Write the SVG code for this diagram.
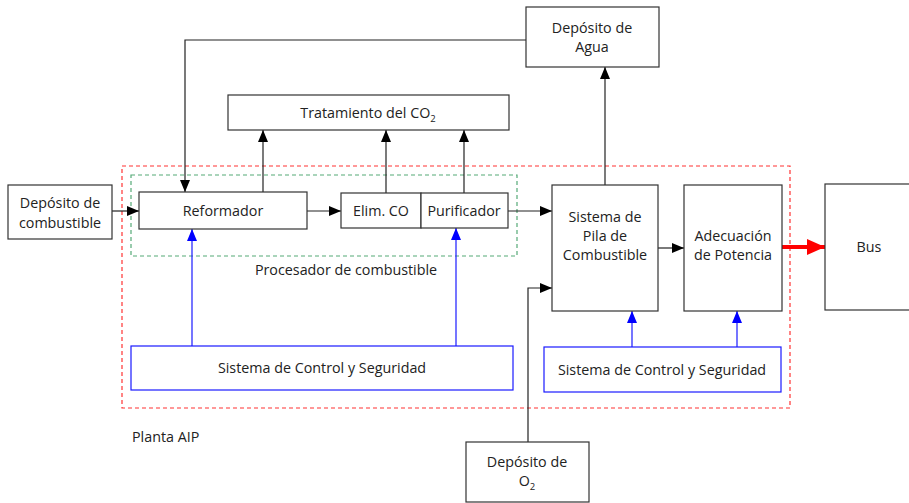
<svg xmlns="http://www.w3.org/2000/svg" width="909" height="503" viewBox="0 0 909 503">
<style>
.b{fill:#fff;stroke:#333;stroke-width:1.2}
.bb{fill:#fff;stroke:#1a1aff;stroke-width:1.2}
text{font-family:"Open Sans","Noto Sans",sans-serif;font-size:14.3px;fill:#222;text-anchor:middle}
.c{fill:none;stroke:#222;stroke-width:1.2}
.cb{fill:none;stroke:#1a1aff;stroke-width:1.2}
</style>
<defs>
<marker id="ak" markerWidth="12" markerHeight="10" refX="12" refY="5" orient="auto" markerUnits="userSpaceOnUse"><path d="M0,0L12,5L0,10Z" fill="#000"/></marker>
<marker id="ab" markerWidth="12" markerHeight="10" refX="12" refY="5" orient="auto" markerUnits="userSpaceOnUse"><path d="M0,0L12,5L0,10Z" fill="#0000ff"/></marker>
<marker id="ar" markerWidth="18" markerHeight="16" refX="18" refY="8" orient="auto" markerUnits="userSpaceOnUse"><path d="M0,0L18,8L0,16Z" fill="#ff0000"/></marker>
</defs>
<g id="planta">
<rect x="122" y="166" width="668" height="242" fill="none" stroke="#ff3333" stroke-width="1.2" stroke-dasharray="4,3"/>
<text x="132" y="442" style="text-anchor:start">Planta AIP</text>
</g>
<g id="procesador">
<rect x="131" y="175" width="386" height="81" fill="none" stroke="#55aa77" stroke-width="1.2" stroke-dasharray="4,3"/>
<text x="346" y="275">Procesador de combustible</text>
</g>
<g id="connectors">
<path class="c" d="M526,40H185V192" marker-end="url(#ak)"/>
<path class="c" d="M605,185V67" marker-end="url(#ak)"/>
<path class="c" d="M112,211H139" marker-end="url(#ak)"/>
<path class="c" d="M263,192V130" marker-end="url(#ak)"/>
<path class="c" d="M386,193V130" marker-end="url(#ak)"/>
<path class="c" d="M464,193V130" marker-end="url(#ak)"/>
<path class="c" d="M307,211H341" marker-end="url(#ak)"/>
<path class="c" d="M508,211H552" marker-end="url(#ak)"/>
<path class="c" d="M658,248H684" marker-end="url(#ak)"/>
<path class="c" d="M528,442V288H552" marker-end="url(#ak)"/>
<path d="M782,247H825" fill="none" stroke="#ff0000" stroke-width="4" marker-end="url(#ar)"/>
<path class="cb" d="M192,346V229" marker-end="url(#ab)"/>
<path class="cb" d="M456,346V228" marker-end="url(#ab)"/>
<path class="cb" d="M632,347V311" marker-end="url(#ab)"/>
<path class="cb" d="M737,347V311" marker-end="url(#ab)"/>
</g>
<g id="agua"><rect class="b" x="526" y="7" width="133" height="60"/><text x="592" y="33">Depósito de</text><text x="592" y="52">Agua</text></g>
<g id="tratamiento"><rect class="b" x="228" y="95" width="281" height="35"/><text x="368" y="118">Tratamiento del CO<tspan font-size="9.5" dy="4">2</tspan></text></g>
<g id="combustible"><rect class="b" x="8" y="185" width="104" height="54"/><text x="60" y="208">Depósito de</text><text x="60" y="228">combustible</text></g>
<g id="reformador"><rect class="b" x="139" y="192" width="168" height="37"/><text x="223" y="216">Reformador</text></g>
<g id="elimco"><rect class="b" x="341" y="193" width="80" height="35"/><text x="381" y="216">Elim. CO</text></g>
<g id="purificador"><rect class="b" x="421" y="193" width="87" height="35"/><text x="464" y="216">Purificador</text></g>
<g id="pila"><rect class="b" x="552" y="185" width="106" height="126"/><text x="605" y="222">Sistema de</text><text x="605" y="241">Pila de</text><text x="605" y="260">Combustible</text></g>
<g id="adecuacion"><rect class="b" x="684" y="185" width="98" height="126"/><text x="733" y="241">Adecuación</text><text x="733" y="260">de Potencia</text></g>
<g id="bus"><rect class="b" x="825" y="184" width="90" height="126"/><text x="869" y="252">Bus</text></g>
<g id="control1"><rect class="bb" x="131" y="346" width="382" height="44"/><text x="322" y="373">Sistema de Control y Seguridad</text></g>
<g id="control2"><rect class="bb" x="544" y="347" width="237" height="45"/><text x="662" y="375">Sistema de Control y Seguridad</text></g>
<g id="o2"><rect class="b" x="466" y="442" width="123" height="60"/><text x="527" y="467">Depósito de</text><text x="527" y="486">O<tspan font-size="9.5" dy="4">2</tspan></text></g>
</svg>
